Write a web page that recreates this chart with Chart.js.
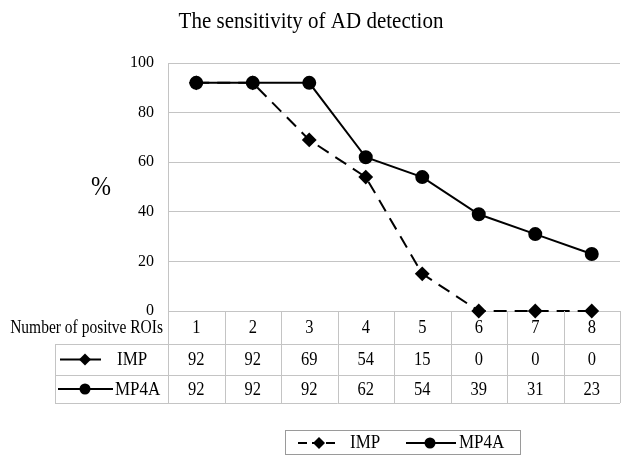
<!DOCTYPE html>
<html>
<head>
<meta charset="utf-8">
<title>The sensitivity of AD detection</title>
<script src="https://cdn.jsdelivr.net/npm/chart.js@4.4.1/dist/chart.umd.min.js"></script>
<style>
  html, body { margin: 0; padding: 0; overflow: hidden; background: #fff; }
  canvas { display: block; }
</style>
</head>
<body>
<canvas id="my-chart" width="628" height="457"></canvas>
<script>
"use strict";

// Data

let categories = ["1", "2", "3", "4", "5", "6", "7", "8"];
let impValues = [92, 92, 69, 54, 15, 0, 0, 0];
let mp4aValues = [92, 92, 92, 62, 54, 39, 31, 23];
let yTicks = [0, 20, 40, 60, 80, 100];

let chartTitle = "The sensitivity of AD detection";
let rowTitle = "Number of positve ROIs";
let serif = "'Liberation Serif', 'Times New Roman', serif";
let gridColor = "#c4c4c4";

// Small helpers for text and the line + marker symbols

function tallText(ctx, text, x, y, sy) {
  ctx.save();
  ctx.translate(x, y);
  ctx.scale(1, sy);
  ctx.fillText(text, 0, 0);
  ctx.restore();
}

function drawSymbol(ctx, x1, x2, cx, cy, dashed, marker) {
  ctx.save();
  ctx.strokeStyle = "#000";
  ctx.lineWidth = 2;
  ctx.setLineDash(dashed ? [9, 5] : []);
  ctx.beginPath();
  ctx.moveTo(x1, cy);
  ctx.lineTo(x2, cy);
  ctx.stroke();
  ctx.setLineDash([]);
  ctx.fillStyle = "#000";
  ctx.beginPath();
  if (marker === "diamond") {
    ctx.moveTo(cx, cy - 6);
    ctx.lineTo(cx + 6, cy);
    ctx.lineTo(cx, cy + 6);
    ctx.lineTo(cx - 6, cy);
    ctx.closePath();
  } else {
    ctx.arc(cx, cy, 5.5, 0, Math.PI * 2);
  }
  ctx.fill();
  ctx.restore();
}

function hLine(ctx, x1, x2, y) {
  ctx.beginPath();
  ctx.moveTo(x1, y + 0.5);
  ctx.lineTo(x2, y + 0.5);
  ctx.stroke();
}

function vLine(ctx, x, y1, y2) {
  ctx.beginPath();
  ctx.moveTo(x + 0.5, y1);
  ctx.lineTo(x + 0.5, y2);
  ctx.stroke();
}

// Plugin that draws the title, the "%" label, the data table and the legend

let extrasPlugin = {
  id: "extras",
  afterDraw(chart) {
    let ctx = chart.ctx;
    let area = chart.chartArea;
    let xScale = chart.scales.x;

    ctx.save();
    ctx.fillStyle = "#000";
    ctx.textAlign = "center";
    ctx.textBaseline = "middle";

    // title
    ctx.font = "21px " + serif;
    tallText(ctx, chartTitle, 311, 22, 1.05);

    // y axis label
    ctx.font = "24px " + serif;
    tallText(ctx, "%", 101, 188, 1.1);

    // data table
    let step = xScale.getPixelForValue(1) - xScale.getPixelForValue(0);
    let top = area.bottom;
    let rows = [top, top + 33, top + 64, top + 92];
    let tableLeft = 55;

    ctx.strokeStyle = gridColor;
    ctx.lineWidth = 1;
    hLine(ctx, tableLeft, area.right, rows[1]);
    hLine(ctx, tableLeft, area.right, rows[2]);
    hLine(ctx, tableLeft, area.right, rows[3]);
    vLine(ctx, tableLeft, rows[1], rows[3]);
    for (let i = 0; i <= categories.length; i++) {
      let bx = Math.round(xScale.getPixelForValue(0) - step / 2 + i * step);
      vLine(ctx, bx, rows[0], rows[3]);
    }

    let mid0 = (rows[0] + rows[1]) / 2 + 1;
    let mid1 = (rows[1] + rows[2]) / 2 + 1;
    let mid2 = (rows[2] + rows[3]) / 2 + 1;

    ctx.font = "15.5px " + serif;
    ctx.textAlign = "right";
    tallText(ctx, rowTitle, 163, mid0, 1.15);

    ctx.font = "16.5px " + serif;
    ctx.textAlign = "center";
    for (let i = 0; i < categories.length; i++) {
      let cx = xScale.getPixelForValue(i);
      tallText(ctx, categories[i], cx, mid0, 1.15);
      tallText(ctx, String(impValues[i]), cx, mid1, 1.15);
      tallText(ctx, String(mp4aValues[i]), cx, mid2, 1.15);
    }

    ctx.font = "17px " + serif;
    ctx.textAlign = "left";
    drawSymbol(ctx, 60, 101, 85, mid1 - 1, false, "diamond");
    tallText(ctx, "IMP", 117, mid1, 1.1);
    drawSymbol(ctx, 58, 113, 85, mid2 - 1, false, "circle");
    tallText(ctx, "MP4A", 115, mid2, 1.1);

    // legend box at the bottom
    ctx.strokeStyle = "#9a9a9a";
    ctx.strokeRect(285.5, 430.5, 235, 24);
    drawSymbol(ctx, 298, 340, 319, 443, true, "diamond");
    tallText(ctx, "IMP", 350, 443, 1.1);
    drawSymbol(ctx, 406, 456, 430, 443, false, "circle");
    tallText(ctx, "MP4A", 459, 443, 1.1);

    ctx.restore();
  },
};

// Build the chart

let ctx = document.getElementById("my-chart").getContext("2d");

let myChart = new Chart(ctx, {
  type: "line",
  data: {
    labels: categories,
    datasets: [
      {
        label: "IMP",
        data: impValues,
        borderColor: "#000",
        backgroundColor: "#000",
        borderWidth: 2,
        borderDash: [13, 8],
        pointStyle: "rectRot",
        pointRadius: 6,
        tension: 0,
        clip: false,
        order: 1,
      },
      {
        label: "MP4A",
        data: mp4aValues,
        borderColor: "#000",
        backgroundColor: "#000",
        borderWidth: 2,
        pointStyle: "circle",
        pointRadius: 6,
        tension: 0,
        clip: false,
        order: 0,
      },
    ],
  },
  options: {
    responsive: false,
    animation: false,
    layout: {
      padding: { top: 63, left: 0, right: 0, bottom: 146 },
    },
    plugins: {
      legend: { display: false },
      title: { display: false },
      tooltip: { enabled: false },
    },
    scales: {
      x: {
        type: "category",
        display: false,
        offset: true,
      },
      y: {
        min: 0,
        max: 100,
        afterFit(scale) {
          scale.width = 168;
        },
        afterBuildTicks(scale) {
          scale.ticks = yTicks.map((v) => ({ value: v }));
        },
        ticks: {
          color: "#000",
          padding: 14,
          font: { family: serif, size: 16 },
        },
        grid: {
          color: gridColor,
          drawTicks: false,
        },
        border: { display: true, color: gridColor },
      },
    },
  },
  plugins: [extrasPlugin],
});
</script>
</body>
</html>
